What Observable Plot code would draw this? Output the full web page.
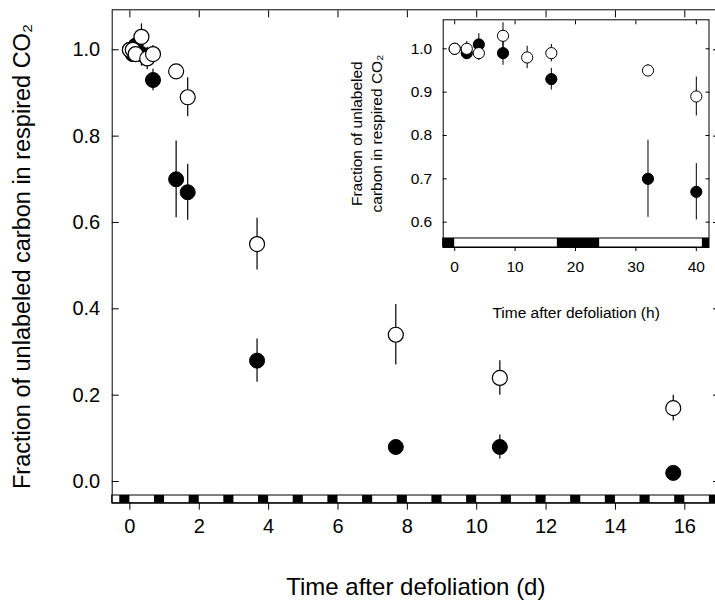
<!DOCTYPE html>
<html><head><meta charset="utf-8">
<script src="https://cdn.jsdelivr.net/npm/d3@7"></script>
<script src="https://cdn.jsdelivr.net/npm/@observablehq/plot@0.6"></script>
<style>
html,body{margin:0;padding:0;background:#fff;overflow:hidden}
#wrap{position:relative;width:715px;height:603px;overflow:hidden}
#inset{position:absolute;left:330px;top:0}
</style></head><body><div id="wrap"><div id="main"></div><div id="inset"></div></div>
<script>
// ---- data (hours after defoliation) ----
const openHours   = [0, 2, 4, 8, 12, 16, 32, 40, 88, 184, 256, 376];
const openMean    = [1.00, 1.00, 0.99, 1.03, 0.98, 0.99, 0.95, 0.89, 0.55, 0.34, 0.24, 0.17];
const openErr     = [0.004, 0.017, 0.017, 0.03, 0.026, 0.02, 0.013, 0.045, 0.06, 0.07, 0.04, 0.03];
const filledHours = [0, 2, 4, 8, 16, 32, 40, 88, 184, 256, 376];
const filledMean  = [1.00, 0.99, 1.01, 0.99, 0.93, 0.70, 0.67, 0.28, 0.08, 0.08, 0.02];
const filledErr   = [0.004, 0.015, 0.025, 0.028, 0.025, 0.089, 0.065, 0.05, 0.01, 0.028, 0.01];
// night periods (start hour, 7 h long)
const nightStartHours = [-7, 17, 41, 65, 89, 113, 137, 161, 185, 209, 233, 257, 281, 305, 329, 353, 377, 401];
const nightLength = 7;
// ticks
const mainXTicks = [0, 2, 4, 6, 8, 10, 12, 14, 16];
const mainYTicks = [0.0, 0.2, 0.4, 0.6, 0.8, 1.0];
const insetXTicks = [0, 10, 20, 30, 40];
const insetYTicks = [0.6, 0.7, 0.8, 0.9, 1.0];
const insetMaxHour = 40;

const mk = (hours, mean, err) => hours.map((h, i) => ({h, d: h / 24, m: mean[i], lo: mean[i] - err[i], hi: mean[i] + err[i]}));
const openRows = mk(openHours, openMean, openErr);
const filledRows = mk(filledHours, filledMean, filledErr);

const font = "Liberation Sans, Arial, Helvetica, sans-serif";

// ---------- main chart ----------
const mx = [-0.51, 17.0], my = [-0.0502, 1.0926], mStripTop = -0.0324;
const mainNights = nightStartHours.map(s => ({x1: Math.max(s / 24, mx[0]), x2: Math.min((s + nightLength) / 24, mx[1])}));
const main = Plot.plot({
  width: 715, height: 603,
  marginLeft: 111.7, marginRight: -4, marginTop: 9.3, marginBottom: 100.3,
  style: {fontFamily: font, fontSize: "20px", background: "transparent", color: "#000"},
  x: {domain: mx, label: null},
  y: {domain: my, label: null},
  marks: [
    Plot.rect([{}], {x1: mx[0], x2: mx[1], y1: my[0], y2: mStripTop, fill: "white", stroke: "black", strokeWidth: 1}),
    Plot.rect(mainNights, {x1: "x1", x2: "x2", y1: my[0], y2: mStripTop, fill: "black"}),
    Plot.frame({stroke: "black", strokeWidth: 1}),
    Plot.axisX(mainXTicks, {anchor: "bottom", tickSize: 7, tickPadding: 9, fontSize: 20, label: null, stroke: "black"}),
    Plot.axisX(mainXTicks, {anchor: "top", tickSize: -7, tickFormat: () => "", label: null, stroke: "black"}),
    Plot.axisY(mainYTicks, {anchor: "left", tickSize: -7, tickPadding: 19, tickFormat: ".1f", fontSize: 20, label: null, stroke: "black"}),
    Plot.axisY(mainYTicks, {anchor: "right", tickSize: -7, tickFormat: () => "", label: null, stroke: "black"}),
    Plot.ruleX(filledRows, {x: "d", y1: "lo", y2: "hi", stroke: "black", strokeWidth: 1.2}),
    Plot.ruleX(openRows, {x: "d", y1: "lo", y2: "hi", stroke: "black", strokeWidth: 1.2}),
    Plot.dot(filledRows, {x: "d", y: "m", r: 7.5, fill: "black", stroke: "black", strokeWidth: 1}),
    Plot.dot(openRows, {x: "d", y: "m", r: 7.5, fill: "white", stroke: "black", strokeWidth: 1.2}),
    Plot.text(["Time after defoliation (d)"], {frameAnchor: "bottom", dy: 84, fontSize: 24, textAnchor: "middle", lineAnchor: "middle", fill: "black"}),
    Plot.text(["Fraction of unlabeled carbon in respired CO₂"], {frameAnchor: "left", rotate: -90, dx: -90, fontSize: 23.5, textAnchor: "middle", lineAnchor: "middle", fill: "black"})
  ]
});
document.getElementById("main").appendChild(main);

// ---------- inset chart ----------
const ix = [-1.9, 42.1], iy = [0.5416, 1.0669], iStripTop = 0.5624;
const insetNights = nightStartHours
  .filter(s => s + nightLength > ix[0] && s < ix[1])
  .map(s => ({x1: Math.max(s, ix[0]), x2: Math.min(s + nightLength, ix[1])}));
const openIn = openRows.filter(r => r.h <= insetMaxHour);
const filledIn = filledRows.filter(r => r.h <= insetMaxHour);
const inset = Plot.plot({
  width: 385, height: 330,
  marginLeft: 112.7, marginRight: 6.5, marginTop: 19.3, marginBottom: 83,
  style: {fontFamily: font, fontSize: "15.5px", background: "transparent", color: "#000"},
  x: {domain: ix, label: null},
  y: {domain: iy, label: null},
  marks: [
    Plot.rect([{}], {x1: ix[0], x2: ix[1], y1: iy[0], y2: iStripTop, fill: "white", stroke: "black", strokeWidth: 1}),
    Plot.rect(insetNights, {x1: "x1", x2: "x2", y1: iy[0], y2: iStripTop, fill: "black"}),
    Plot.frame({stroke: "black", strokeWidth: 1}),
    Plot.axisX(insetXTicks, {anchor: "bottom", tickSize: 4, tickPadding: 9, fontSize: 15.5, label: null, stroke: "black"}),
    Plot.axisX(insetXTicks, {anchor: "top", tickSize: -4, tickFormat: () => "", label: null, stroke: "black"}),
    Plot.axisY(insetYTicks, {anchor: "left", tickSize: -4, tickPadding: 15, tickFormat: ".1f", fontSize: 15.5, label: null, stroke: "black"}),
    Plot.axisY(insetYTicks, {anchor: "right", tickSize: -4, tickFormat: () => "", label: null, stroke: "black"}),
    Plot.ruleX(filledIn, {x: "h", y1: "lo", y2: "hi", stroke: "black", strokeWidth: 1}),
    Plot.ruleX(openIn, {x: "h", y1: "lo", y2: "hi", stroke: "black", strokeWidth: 1}),
    Plot.dot(filledIn, {x: "h", y: "m", r: 5.6, fill: "black", stroke: "black", strokeWidth: 1}),
    Plot.dot(openIn, {x: "h", y: "m", r: 5.6, fill: "white", stroke: "black", strokeWidth: 1}),
    Plot.text(["Time after defoliation (h)"], {frameAnchor: "bottom", dy: 66, fontSize: 15.5, textAnchor: "middle", lineAnchor: "middle", fill: "black"}),
    Plot.text(["Fraction of unlabeled\ncarbon in respired CO₂"], {frameAnchor: "left", rotate: -90, dx: -77.7, fontSize: 15.5, lineHeight: 1.29, textAnchor: "middle", lineAnchor: "middle", fill: "black"})
  ]
});
document.getElementById("inset").appendChild(inset);
</script></body></html>
